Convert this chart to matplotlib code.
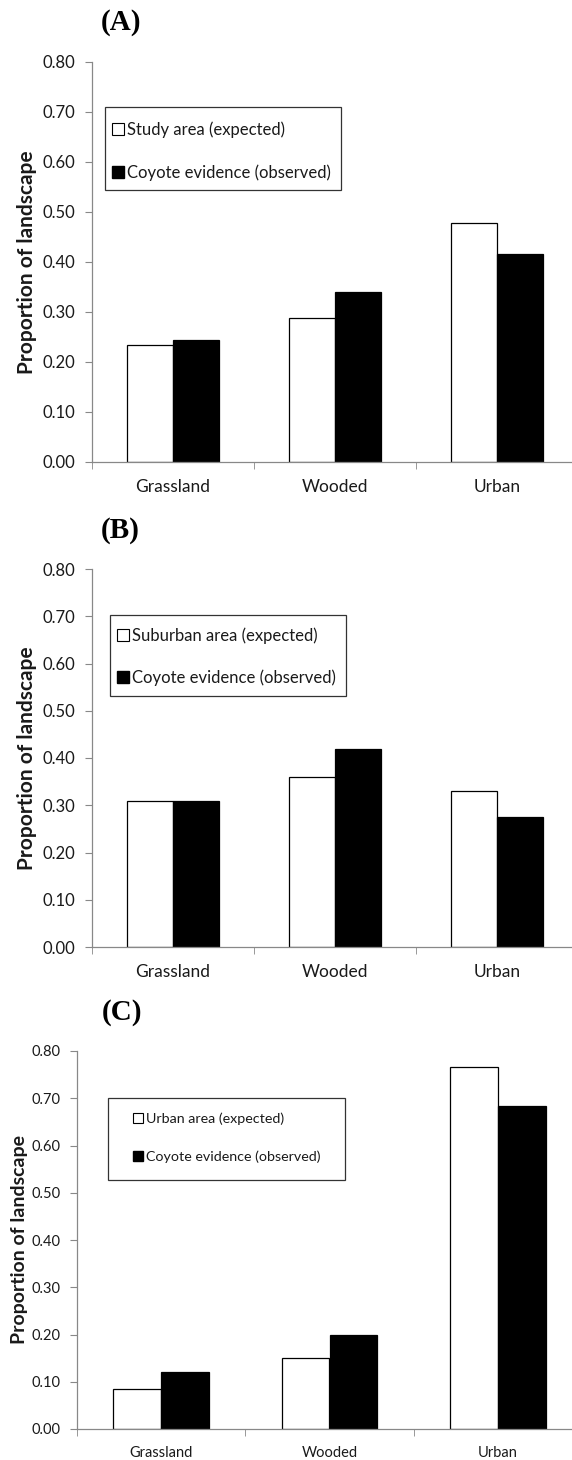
import numpy as np
import matplotlib
matplotlib.use('Agg')
import matplotlib.pyplot as plt
from matplotlib.patches import Rectangle, Patch

# Dados
categories = ['Grassland', 'Wooded', 'Urban']
a_expected = [0.235, 0.289, 0.478]
a_observed = [0.245, 0.341, 0.416]
b_expected = [0.310, 0.360, 0.331]
b_observed = [0.309, 0.419, 0.275]
c_expected = [0.085, 0.151, 0.766]
c_observed = [0.120, 0.198, 0.684]
y_ticks = [0.0, 0.1, 0.2, 0.3, 0.4, 0.5, 0.6, 0.7, 0.8]
observed_label = 'Coyote evidence (observed)'

W, H = 572, 1460
fig = plt.figure(figsize=(W / 100, H / 100), dpi=100)
txt = '#1a1a1a'
font = 'Lato'


def box(l, t, r, b):
    return [l / W, 1 - b / H, (r - l) / W, (b - t) / H]


# letra, esperado, observado, legenda, eixo (px), caixa legenda, entrada legenda,
# ylabel pos, letra pos, tamanhos (ytick, xtick, legenda, ylabel), labelspacing
panels = [
    ('(A)', a_expected, a_observed, 'Study area (expected)',
     (92, 62, 578, 462), (105, 107, 341, 190), (112, 121), (27, 262), (101, 23),
     (12, 12.5, 12, 15), 1.62),
    ('(B)', b_expected, b_observed, 'Suburban area (expected)',
     (92, 569, 578, 947), (110, 615, 346, 696), (117, 627), (27, 758), (101, 530),
     (12, 12.5, 12, 15), 1.55),
    ('(C)', c_expected, c_observed, 'Urban area (expected)',
     (77, 1051, 582, 1429), (108, 1098, 345, 1180), (133, 1112), (20, 1240), (102, 1013),
     (10.5, 10.5, 10.3, 14), 1.8),
]

x = np.arange(len(categories))
w = 0.285

for letter, exp, obs, leg_text, axb, legb, lege, ylab, lpos, sizes, lsp in panels:
    fs_y, fs_x, fs_leg, fs_lab = sizes
    ax = fig.add_axes(box(*axb))
    ax.bar(x - w / 2, exp, w, color='white', edgecolor='black', linewidth=0.9)
    ax.bar(x + w / 2, obs, w, color='black', edgecolor='black', linewidth=0.9)
    ax.set_xlim(-0.5, 2.5)
    ax.set_ylim(0, 0.8)
    ax.set_yticks(y_ticks)
    ax.set_yticklabels(['%.2f' % v for v in y_ticks], fontsize=fs_y, color=txt, family=font)
    ax.set_xticks(x)
    ax.set_xticklabels(categories, fontsize=fs_x, color=txt, family=font)
    ax.set_xticks([-0.5, 0.5, 1.5, 2.5], minor=True)
    ax.tick_params(axis='x', which='major', length=0, pad=12)
    ax.tick_params(axis='x', which='minor', length=5, color='#888888', direction='out')
    ax.tick_params(axis='y', length=5, color='#888888', pad=7)
    for s in ['top', 'right']:
        ax.spines[s].set_visible(False)
    for s in ['left', 'bottom']:
        ax.spines[s].set_color('#888888')
        ax.spines[s].set_linewidth(0.9)

    # caixa da legenda
    l, t, r, b = legb
    ax.add_patch(Rectangle((l / W, 1 - b / H), (r - l) / W, (b - t) / H,
                           transform=fig.transFigure, facecolor='white',
                           edgecolor='#333333', linewidth=0.9, zorder=5, clip_on=False))
    handles = [Patch(facecolor='white', edgecolor='black', linewidth=0.8),
               Patch(facecolor='black', edgecolor='black')]
    leg = fig.legend(handles, [leg_text, observed_label], loc='upper left',
                     bbox_to_anchor=(lege[0] / W, 1 - lege[1] / H), frameon=False,
                     handlelength=0.7, handleheight=0.7, handletextpad=0.2,
                     labelspacing=lsp, borderpad=0, borderaxespad=0,
                     prop={'family': font, 'size': fs_leg})
    for t_ in leg.get_texts():
        t_.set_color(txt)
    leg.set_zorder(6)

    fig.text(ylab[0] / W, 1 - ylab[1] / H, 'Proportion of landscape', rotation=90,
             ha='center', va='center', fontsize=fs_lab, fontweight='bold', family=font, color=txt)
    fig.text(lpos[0] / W, 1 - lpos[1] / H, letter, ha='left', va='center',
             fontsize=21, fontweight='bold', family='Liberation Serif', color='black')

fig.savefig('out.png', dpi=100)
